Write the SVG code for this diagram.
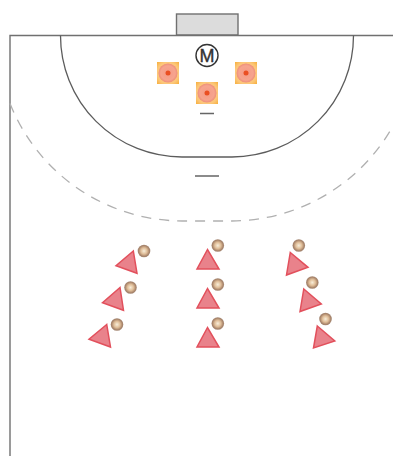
<svg xmlns="http://www.w3.org/2000/svg" width="393" height="456" viewBox="0 0 393 456">
<style>
.court{fill:none;stroke:#707070;stroke-width:1.4}
.line6{fill:none;stroke:#5c5c5c;stroke-width:1.3}
.dash{fill:none;stroke:#b0b0b0;stroke-width:1.3;stroke-dasharray:10 8}
.tri{fill:#e9828b;stroke:#e2505c;stroke-width:1.5;stroke-linejoin:miter}
.sq{fill:url(#gs)}
.disc{fill:url(#gd)}
.dot{fill:#ea4f23}
.ball{fill:url(#gb)}
</style>
<defs>
<radialGradient id="gb"><stop offset="0" stop-color="#f8eeda"/><stop offset="0.5" stop-color="#dfbd98"/><stop offset="0.85" stop-color="#a8846a"/><stop offset="1" stop-color="#a58a78"/></radialGradient>
<radialGradient id="gd"><stop offset="0" stop-color="#f59a85"/><stop offset="0.75" stop-color="#f6a48e"/><stop offset="1" stop-color="#ee8d78"/></radialGradient>
<radialGradient id="gs" r="0.72"><stop offset="0" stop-color="#fdd08e"/><stop offset="0.7" stop-color="#fcc678"/><stop offset="1" stop-color="#f6ad36"/></radialGradient>
</defs>
<g id="court">
<rect x="176.500" y="14" width="61.500" height="21" fill="#dcdcdc" stroke="#707070" stroke-width="1.4"/>
<path class="court" d="M10 456V35.500H393"/>
<path class="line6" d="M60.500 35.500A121.500 121.500 0 0 0 182 157H232A121.500 121.500 0 0 0 353.500 35.500"/>
<path class="dash" d="M10 103.500A186 186 0 0 0 182 221H232A186 186 0 0 0 393 126"/>
<path d="M200 113.500H214M195 176H219" fill="none" stroke="#666" stroke-width="1.3"/>
</g>
<g id="keeper">
<circle cx="207" cy="55.500" r="11" fill="#fff" stroke="#333" stroke-width="1.4"/>
<text x="207" y="61.800" font-family="Liberation Sans, sans-serif" font-size="18" text-anchor="middle" fill="#333" stroke="#333" stroke-width="0.4">M</text>
</g>
<g id="def1"><rect class="sq" x="157" y="62" width="22" height="22"/><circle class="disc" cx="168" cy="73" r="9.500"/><circle class="dot" cx="168" cy="73" r="2.500"/></g>
<g id="def2"><rect class="sq" x="196" y="82" width="22" height="22"/><circle class="disc" cx="207" cy="93" r="9.500"/><circle class="dot" cx="207" cy="93" r="2.500"/></g>
<g id="def3"><rect class="sq" x="235" y="62" width="22" height="22"/><circle class="disc" cx="246" cy="73" r="9.500"/><circle class="dot" cx="246" cy="73" r="2.500"/></g>
<g id="p1"><polygon class="tri" points="133.300,251 116,265.700 137,273.300"/><circle class="ball" cx="144" cy="251" r="6.300"/></g>
<g id="p2"><polygon class="tri" points="120,287.500 102.500,302.700 123.500,310.300"/><circle class="ball" cx="130.500" cy="287.500" r="6.300"/></g>
<g id="p3"><polygon class="tri" points="106.700,324.500 89,339.200 110.500,347"/><circle class="ball" cx="117" cy="324.500" r="6.300"/></g>
<g id="p4"><polygon class="tri" points="207.500,249.500 197,269 219,269"/><circle class="ball" cx="217.800" cy="245.500" r="6.300"/></g>
<g id="p5"><polygon class="tri" points="207.500,288.500 197,308 219,308"/><circle class="ball" cx="217.800" cy="284.500" r="6.300"/></g>
<g id="p6"><polygon class="tri" points="207.500,327.500 197,347 219,347"/><circle class="ball" cx="217.800" cy="323.500" r="6.300"/></g>
<g id="p7"><polygon class="tri" points="290.300,252.500 308,267.300 286.500,275"/><circle class="ball" cx="298.800" cy="245.500" r="6.300"/></g>
<g id="p8"><polygon class="tri" points="303.800,289 321.300,304 300,311.500"/><circle class="ball" cx="312.300" cy="282.500" r="6.300"/></g>
<g id="p9"><polygon class="tri" points="317.300,326 334.800,341 313.500,348"/><circle class="ball" cx="325.500" cy="319" r="6.300"/></g>
</svg>
